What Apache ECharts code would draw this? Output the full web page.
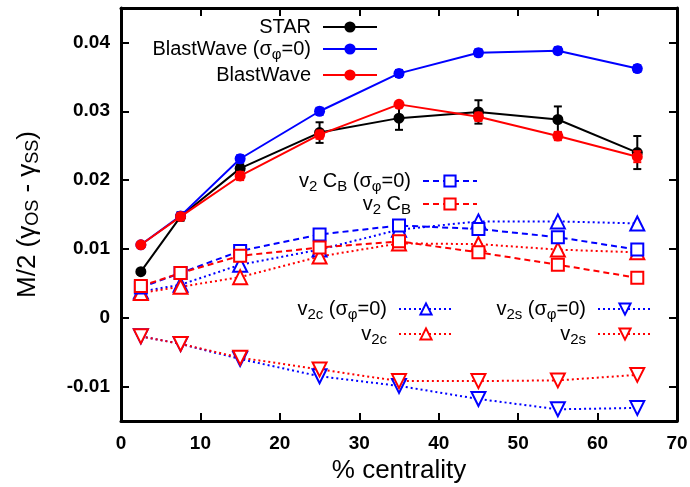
<!DOCTYPE html>
<html><head><meta charset="utf-8">
<script src="https://cdn.jsdelivr.net/npm/echarts@6/dist/echarts.min.js"></script>
<style>html,body{margin:0;padding:0;background:#fff}#c{width:690px;height:487px}</style>
</head><body><div id="c"></div>
<script>
const xVals = [2.5, 7.5, 15, 25, 35, 45, 55, 65];
const starY = [0.0067, 0.0147, 0.0217, 0.0269, 0.0290, 0.0299, 0.0288, 0.0240];
const starErr = [0.0003, 0.0006, 0.0006, 0.0015, 0.0017, 0.0017, 0.0019, 0.0024];
const bw0Y = [0.0106, 0.0148, 0.0231, 0.0300, 0.0355, 0.0385, 0.0388, 0.0362];
const bw0Err = [0.0003, 0.0005, 0.0005, 0.0005, 0.0005, 0.0005, 0.0005, 0.0005];
const bwY = [0.0106, 0.0147, 0.0206, 0.0266, 0.0310, 0.0292, 0.0264, 0.0234];
const bwErr = [0.0003, 0.0005, 0.0006, 0.0006, 0.0003, 0.0006, 0.0006, 0.0008];
const cb0Y = [0.0044, 0.0065, 0.0097, 0.0121, 0.0134, 0.0129, 0.0117, 0.0099];
const cbY = [0.0046, 0.0065, 0.0090, 0.0102, 0.0111, 0.0095, 0.0077, 0.0058];
const v2c0Y = [0.0038, 0.0048, 0.0077, 0.0099, 0.0128, 0.0140, 0.0140, 0.0137];
const v2cY = [0.0036, 0.0045, 0.0059, 0.0089, 0.0108, 0.0107, 0.0099, 0.0095];
const v2s0Y = [-0.0027, -0.0038, -0.0060, -0.0085, -0.0099, -0.0118, -0.0133, -0.0131];
const v2sY = [-0.0027, -0.0038, -0.0058, -0.0075, -0.0092, -0.0092, -0.0091, -0.0083];
const xTicks = [0, 10, 20, 30, 40, 50, 60, 70];
const yTicks = [-0.01, 0, 0.01, 0.02, 0.03, 0.04];

const BLUE = '#0000ff', RED = '#ff0000', BLACK = '#000000';
const FONT = '"Liberation Sans", Arial, sans-serif';

const names = {
  star: 'STAR', bw0: 'BlastWave (σφ=0)', bw: 'BlastWave',
  cb0: 'v2 CB (σφ=0)', cb: 'v2 CB',
  v2c0: 'v2c (σφ=0)', v2c: 'v2c', v2s0: 'v2s (σφ=0)', v2s: 'v2s'
};
const richNames = {};
richNames[names.star] = '{t|STAR}{g|}';
richNames[names.bw0] = '{t|BlastWave (σ}{s|φ}{t|=0)}{g|}';
richNames[names.bw] = '{t|BlastWave}{g|}';
richNames[names.cb0] = '{t|v}{s|2}{t| C}{s|B}{t| (σ}{s|φ}{t|=0)}{g|}';
richNames[names.cb] = '{t|v}{s|2}{t| C}{s|B}{g|}';
richNames[names.v2c0] = '{t|v}{s|2c}{t| (σ}{s|φ}{t|=0)}{g|}';
richNames[names.v2c] = '{t|v}{s|2c}{g|}';
richNames[names.v2s0] = '{t|v}{s|2s}{t| (σ}{s|φ}{t|=0)}{g|}';
richNames[names.v2s] = '{t|v}{s|2s}{g|}';

const rich = {
  t: {fontSize: 20, fontFamily: FONT, color: '#000', lineHeight: 24},
  s: {fontSize: 15, fontFamily: FONT, color: '#000', padding: [11, 0, 0, 0], lineHeight: 24},
  g: {width: 7}
};

function pts(ys) { return xVals.map((x, i) => [x, ys[i]]); }
function errPts(ys, es) { return xVals.map((x, i) => [x, ys[i], es[i]]); }

function errSeries(ys, es, color, z) {
  return {
    type: 'custom', silent: true, z: z,
    data: errPts(ys, es),
    renderItem: function (params, api) {
      const x = api.value(0), y = api.value(1), e = api.value(2);
      const lo = api.coord([x, y - e]), hi = api.coord([x, y + e]);
      const w = 4;
      return {
        type: 'group', children: [
          {type: 'line', shape: {x1: lo[0], y1: lo[1], x2: hi[0], y2: hi[1]}, style: {stroke: color, lineWidth: 2}},
          {type: 'line', shape: {x1: lo[0] - w, y1: lo[1], x2: lo[0] + w, y2: lo[1]}, style: {stroke: color, lineWidth: 2}},
          {type: 'line', shape: {x1: hi[0] - w, y1: hi[1], x2: hi[0] + w, y2: hi[1]}, style: {stroke: color, lineWidth: 2}}
        ]
      };
    }
  };
}

function lineSeries(name, ys, color, symbol, size, dash, width, z, rotate) {
  return {
    name: name, type: 'line', data: pts(ys), z: z,
    symbol: symbol, symbolSize: size, symbolRotate: rotate || 0,
    lineStyle: {color: color, width: width, type: dash},
    itemStyle: {color: color, borderColor: color, borderWidth: symbol.indexOf('empty') === 0 ? 1.7 : 0},
    emphasis: {disabled: true}
  };
}

function legend(name, right, top) {
  return {
    data: [name], right: right, top: top, align: 'right', padding: 0,
    itemWidth: 54, itemHeight: 14, selectedMode: false,
    formatter: function (n) { return richNames[n]; },
    textStyle: {rich: rich, fontFamily: FONT, fontSize: 20}
  };
}

const chart = echarts.init(document.getElementById('c'), null, {renderer: 'canvas'});
const axisLineStyle = {color: '#000', width: 3};
const tickStyle = {inside: true, length: 8, lineStyle: {color: '#000', width: 2}};
chart.setOption({
  animation: false,
  backgroundColor: '#fff',
  grid: {left: 121, right: 13, top: 8, bottom: 66, containLabel: false, outerBoundsMode: 'none'},
  xAxis: [
    {type: 'value', min: 0, max: 70, interval: 10, position: 'bottom',
     axisLine: {show: true, onZero: false, lineStyle: axisLineStyle}, splitLine: {show: false},
     axisTick: tickStyle,
     axisLabel: {fontFamily: FONT, fontSize: 19, fontWeight: 'bold', color: '#000', margin: 13,
                 formatter: v => String(v)},
     name: '% centrality', nameLocation: 'middle', nameGap: 36,
     nameTextStyle: {fontFamily: FONT, fontSize: 26, color: '#000'}},
    {type: 'value', min: 0, max: 70, interval: 10, position: 'top',
     axisLine: {show: true, onZero: false, lineStyle: axisLineStyle}, splitLine: {show: false},
     axisTick: tickStyle,
     axisLabel: {show: false}}
  ],
  yAxis: [
    {type: 'value', min: -0.015, max: 0.045, position: 'left',
     axisLine: {show: true, onZero: false, lineStyle: axisLineStyle}, splitLine: {show: false},
     axisTick: Object.assign({customValues: yTicks}, tickStyle),
     axisLabel: {fontFamily: FONT, fontSize: 19, fontWeight: 'bold', color: '#000', margin: 11,
                 customValues: yTicks, formatter: v => (Math.abs(v) < 1e-9 ? '0' : String(+v.toFixed(3)))},
     name: '{t|M/2 (γ}{s|OS}{t| - γ}{s|SS}{t|)}', nameLocation: 'middle', nameGap: 78, nameRotate: 90,
     nameTextStyle: {rich: {
       t: {fontFamily: FONT, fontSize: 26, color: '#000', lineHeight: 30},
       s: {fontFamily: FONT, fontSize: 18, color: '#000', padding: [11, 0, 0, 0], lineHeight: 30}
     }}},
    {type: 'value', min: -0.015, max: 0.045, position: 'right',
     axisLine: {show: true, onZero: false, lineStyle: axisLineStyle}, splitLine: {show: false},
     axisTick: Object.assign({customValues: yTicks}, tickStyle),
     axisLabel: {show: false, customValues: yTicks}}
  ],
  legend: [
    legend(names.star, 312, 17),
    legend(names.bw0, 312, 36),
    legend(names.bw, 312, 65),
    legend(names.cb0, 212, 168),
    legend(names.cb, 212, 191),
    legend(names.v2c0, 236, 296),
    legend(names.v2c, 236, 321),
    legend(names.v2s0, 37, 296),
    legend(names.v2s, 37, 321)
  ],
  series: [
    lineSeries(names.v2s0, v2s0Y, BLUE, 'emptyTriangle', 14, [2, 3], 2, 2, 180),
    lineSeries(names.v2s, v2sY, RED, 'emptyTriangle', 14, [2, 3], 2, 2, 180),
    lineSeries(names.v2c0, v2c0Y, BLUE, 'emptyTriangle', 14, [2, 3], 2, 2),
    lineSeries(names.v2c, v2cY, RED, 'emptyTriangle', 14, [2, 3], 2, 2),
    lineSeries(names.cb0, cb0Y, BLUE, 'emptyRect', 12, [6, 4], 2, 3),
    lineSeries(names.cb, cbY, RED, 'emptyRect', 12, [6, 4], 2, 3),
    errSeries(starY, starErr, BLACK, 4),
    lineSeries(names.star, starY, BLACK, 'circle', 11, 'solid', 2, 4),
    errSeries(bw0Y, bw0Err, BLUE, 5),
    lineSeries(names.bw0, bw0Y, BLUE, 'circle', 11, 'solid', 2, 5),
    errSeries(bwY, bwErr, RED, 6),
    lineSeries(names.bw, bwY, RED, 'circle', 11, 'solid', 2, 6)
  ]
});
</script></body></html>
